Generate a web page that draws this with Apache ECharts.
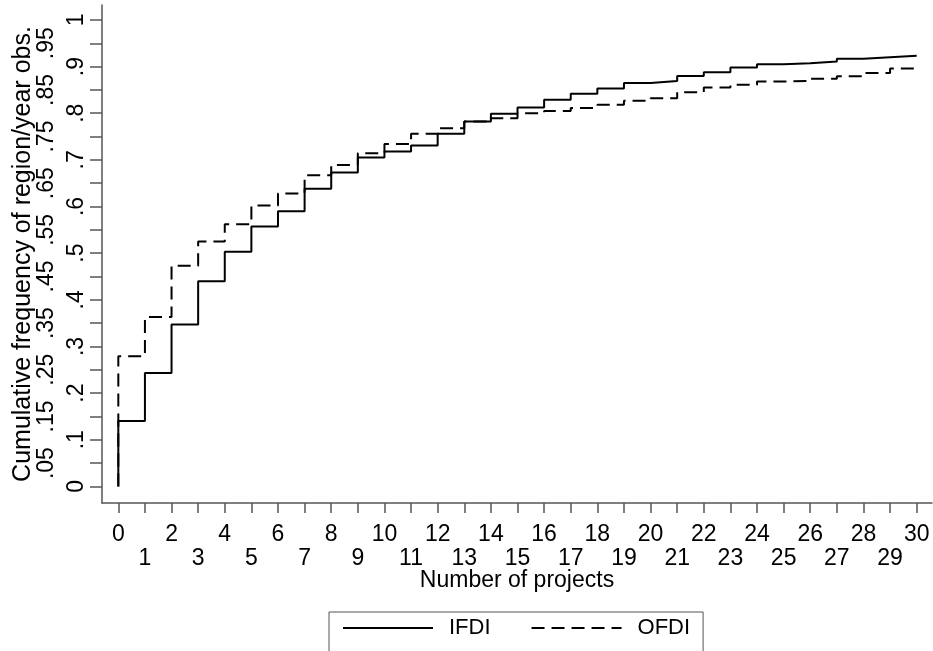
<!DOCTYPE html>
<html>
<head>
<meta charset="utf-8">
<script src="https://cdn.jsdelivr.net/npm/echarts@6/dist/echarts.min.js"></script>
<style>html,body{margin:0;padding:0;background:#fff}#c{width:933px;height:651px}</style>
</head>
<body>
<div id="c"></div>
<script>
// Number of projects (step positions) and cumulative frequencies
var projects = [0,1,2,3,4,5,6,7,8,9,10,11,12,13,14,15,16,17,18,19,20,21,22,23,24,25,26,27,28,29,30];
var ifdi = [0.140,0.243,0.347,0.440,0.503,0.557,0.590,0.638,0.673,0.705,0.718,0.731,0.756,0.782,0.799,0.812,0.829,0.842,0.853,0.865,0.869,0.880,0.888,0.898,0.905,0.907,0.911,0.917,0.920,0.923];
var ofdi = [0.279,0.363,0.473,0.525,0.562,0.602,0.628,0.667,0.689,0.714,0.734,0.756,0.768,0.782,0.789,0.800,0.805,0.811,0.818,0.827,0.832,0.845,0.855,0.861,0.868,0.869,0.874,0.879,0.886,0.896];
var xTicksEven = [0,2,4,6,8,10,12,14,16,18,20,22,24,26,28,30];
var xTicksOdd = [1,3,5,7,9,11,13,15,17,19,21,23,25,27,29];
var yTicksEven = [0,0.1,0.2,0.3,0.4,0.5,0.6,0.7,0.8,0.9,1];
var yTicksOdd = [0.05,0.15,0.25,0.35,0.45,0.55,0.65,0.75,0.85,0.95];
var yTicksAll = [0,0.05,0.1,0.15,0.2,0.25,0.3,0.35,0.4,0.45,0.5,0.55,0.6,0.65,0.7,0.75,0.8,0.85,0.9,0.95,1];
var seriesNames = ['IFDI','OFDI'];

function stepData(vals){
  var d = [[projects[0], 0]];
  for (var i = 0; i < vals.length; i++) d.push([projects[i], vals[i]]);
  d.push([projects[vals.length], vals[vals.length-1]]);
  return d;
}
function fmtY(v){ return String(+v.toFixed(2)).replace(/^0\./,'.'); }

var FONT = '"Liberation Sans", Arial, sans-serif';
var XMIN = -0.613, XMAX = 30.575, YMIN = -0.0356, YMAX = 1.032;
var axisCol = '#555';

var chart = echarts.init(document.getElementById('c'), null, {renderer:'canvas'});
chart.setOption({
  animation: false,
  backgroundColor: '#fff',
  grid: {left: 102, right: 1, top: 5, bottom: 148},
  legend: {
    data: seriesNames,
    left: 329, top: 612,
    padding: [4, 13, 20, 13],
    borderColor: '#555', borderWidth: 1,
    itemWidth: 90, itemHeight: 14, itemGap: 40,
    itemStyle: {opacity: 0},
    textStyle: {fontFamily: FONT, fontSize: 22, color: '#000', padding: [0,0,0,11], lineHeight: 24}
  },
  xAxis: [{
    type: 'value', min: XMIN, max: XMAX,
    name: 'Number of projects', nameLocation: 'middle', nameGap: 66,
    nameTextStyle: {fontFamily: FONT, fontSize: 23, color: '#000'},
    axisLine: {show: true, onZero: false, lineStyle: {color: axisCol, width: 1.5}},
    axisTick: {show: true, length: 10, customValues: projects, lineStyle: {color: axisCol, width: 1.5}},
    axisLabel: {customValues: xTicksEven, margin: 20, fontFamily: FONT, fontSize: 23, color: '#000'},
    splitLine: {show: false}
  }, {
    type: 'value', min: XMIN, max: XMAX, position: 'bottom', gridIndex: 0,
    axisLine: {show: false}, axisTick: {show: false},
    axisLabel: {customValues: xTicksOdd, margin: 44, fontFamily: FONT, fontSize: 23, color: '#000'},
    splitLine: {show: false}
  }],
  yAxis: [{
    type: 'value', min: YMIN, max: YMAX,
    name: 'Cumulative frequency of region/year obs.', nameLocation: 'middle', nameGap: 66, nameRotate: 90,
    nameTextStyle: {fontFamily: FONT, fontSize: 25, color: '#000'},
    axisLine: {show: true, onZero: false, lineStyle: {color: axisCol, width: 1.5}},
    axisTick: {show: true, length: 12, customValues: yTicksAll, lineStyle: {color: axisCol, width: 1.5}},
    axisLabel: {customValues: yTicksEven, rotate: 90, margin: 14, formatter: fmtY, fontFamily: FONT, fontSize: 23, color: '#000'},
    splitLine: {show: false}
  }, {
    type: 'value', min: YMIN, max: YMAX, position: 'left', gridIndex: 0,
    axisLine: {show: false}, axisTick: {show: false},
    axisLabel: {customValues: yTicksOdd, rotate: 90, margin: 44, formatter: fmtY, fontFamily: FONT, fontSize: 23, color: '#000'},
    splitLine: {show: false}
  }],
  series: [{
    name: seriesNames[0], type: 'line', step: 'end', symbol: 'none',
    xAxisIndex: 0, yAxisIndex: 0,
    data: stepData(ifdi),
    lineStyle: {color: '#000', width: 2, type: 'solid'},
    itemStyle: {color: '#000'}
  }, {
    name: seriesNames[1], type: 'line', step: 'end', symbol: 'none',
    xAxisIndex: 0, yAxisIndex: 0,
    data: stepData(ofdi),
    lineStyle: {color: '#000', width: 2, type: [13, 7]},
    itemStyle: {color: '#000'}
  }]
});
</script>
</body>
</html>
